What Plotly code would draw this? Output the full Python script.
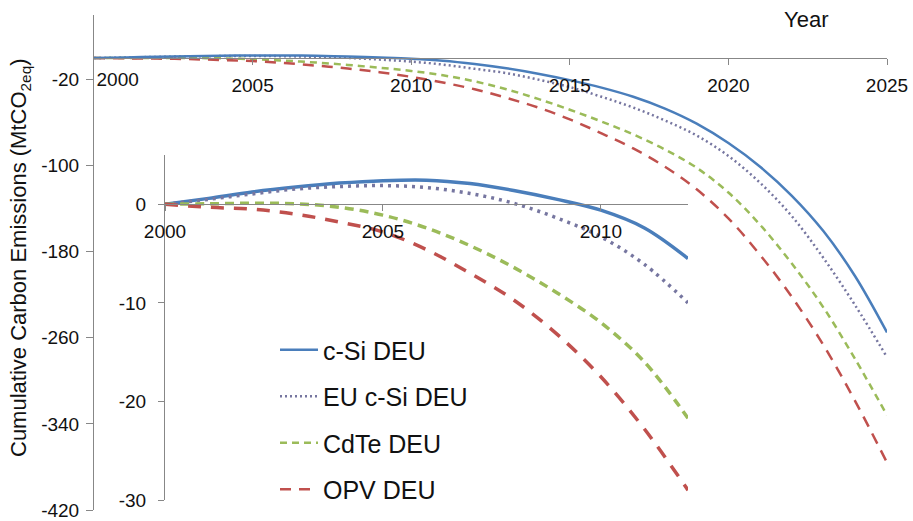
import plotly.graph_objects as go

# Years covered by the long-run projection
years = list(range(2000, 2026))

# Cumulative carbon emissions (MtCO2eq) per technology
csi_deu = [0, 0.6, 1.25, 1.75, 2.15, 2.4, 2.45, 2.1, 1.4, 0.5, -0.6, -2.4, -5.5,
           -9.5, -14.5, -20.5, -27.5, -36, -47, -61, -79, -101, -128, -161, -203, -255]
eu_csi_deu = [0, 0.5, 1.05, 1.55, 1.8, 1.9, 1.7, 1.1, 0.1, -1.4, -3.3, -6.1, -10.0,
              -14, -20, -27, -36, -46, -58, -72, -91, -116, -147, -186, -230, -278]
cdte_deu = [0, 0.05, 0.1, 0.05, -0.3, -1.1, -2.4, -4.2, -6.4, -9.0, -12.0, -16.0, -21.7,
            -29, -38, -48, -59, -71, -85, -102, -125, -155, -191, -232, -280, -332]
opv_deu = [0, -0.3, -0.5, -1.0, -1.8, -2.8, -4.6, -7.0, -9.7, -13.2, -17.5, -22.8, -29.0,
           -37, -46, -57, -70, -84, -101, -122, -149, -183, -222, -267, -319, -376]

series_names = ["c-Si DEU", "EU c-Si DEU", "CdTe DEU", "OPV DEU"]
series_values = [csi_deu, eu_csi_deu, cdte_deu, opv_deu]

# Main axis ticks (the first year label sits just right of the vertical axis,
# on an overlaid x axis sharing the same range)
main_x_ticks = [2005, 2010, 2015, 2020, 2025]
main_x_labels = ["2005", "2010", "2015", "2020", "2025"]
first_year_tick = [2000]
first_year_label = ["2000"]
main_y_ticks = [-420, -340, -260, -180, -100, -20]
main_y_labels = ["-420", "-340", "-260", "-180", "-100", "-20"]

# Inset (zoom on the first years)
inset_end_year = 2012
inset_x_ticks = [2000, 2005, 2010]
inset_x_labels = ["2000", "2005", "2010"]
inset_y_ticks = [-30, -20, -10, 0]
inset_y_labels = ["-30", "-20", "-10", "0"]

FONT = "Arial, 'Liberation Sans', sans-serif"
AXIS_GREY = "#878787"

styles = [
    dict(color="#4A7EBB", main_dash="solid", inset_dash="solid"),
    dict(color="#7676A0", main_dash="2px,3px", inset_dash="3px,5px"),
    dict(color="#9BBB59", main_dash="7px,5px", inset_dash="9px,6px"),
    dict(color="#C0504D", main_dash="11px,8px", inset_dash="13px,10px"),
]
# x axis used by each series in the main panel (x3 overlays x with the same range)
main_xaxis = ["x3", "x", "x", "x"]

fig = go.Figure()

n_inset = inset_end_year - years[0] + 1
for name, vals, st, xa in zip(series_names, series_values, styles, main_xaxis):
    fig.add_trace(go.Scatter(
        x=years, y=vals, mode="lines", name=name, legendgroup=name,
        line=dict(color=st["color"], width=2.5, dash=st["main_dash"], shape="spline"),
        xaxis=xa, yaxis="y",
    ))
for name, vals, st in zip(series_names, series_values, styles):
    fig.add_trace(go.Scatter(
        x=years[:n_inset], y=vals[:n_inset], mode="lines", name=name,
        legendgroup=name, showlegend=False,
        line=dict(color=st["color"], width=3.5, dash=st["inset_dash"], shape="spline"),
        xaxis="x2", yaxis="y2",
    ))

# Geometry of the main plot area
W, H = 913, 521
ml, mr, mt, mb = 94, 26, 15, 11
pw, ph = W - ml - mr, H - mt - mb


def px_x(px):
    return (px - ml) / pw


def px_y(py):
    return (H - mb - py) / ph


y_lo, y_hi = -420, 40
main_cross = (0 - y_lo) / (y_hi - y_lo)

inset_y_lo, inset_y_hi = -30, 5
inset_dom_y = [px_y(500), px_y(155)]
inset_dom_x = [px_x(165), px_x(688)]
inset_cross = inset_dom_y[0] + (0 - inset_y_lo) / (inset_y_hi - inset_y_lo) * (inset_dom_y[1] - inset_dom_y[0])

tick_font = dict(family=FONT, size=19, color="#111111")
common_axis = dict(showgrid=False, zeroline=False, showline=True, linecolor=AXIS_GREY,
                   linewidth=1, ticks="outside", tickcolor=AXIS_GREY, tickwidth=1,
                   automargin=False, tickfont=tick_font)

fig.update_layout(
    template="none",
    width=W, height=H, autosize=False,
    margin=dict(l=ml, r=mr, t=mt, b=mb, autoexpand=False),
    paper_bgcolor="white", plot_bgcolor="rgba(0,0,0,0)",
    font=dict(family=FONT, color="#111111"),
    xaxis=dict(domain=[0, 1], range=[2000, 2025], anchor="free", position=main_cross,
               tickmode="array", tickvals=main_x_ticks, ticktext=main_x_labels,
               ticklen=6, ticklabelstandoff=4, **common_axis),
    xaxis3=dict(domain=[0, 1], range=[2000, 2025], anchor="free", position=main_cross,
                overlaying="x", showline=False, showgrid=False, zeroline=False,
                ticks="outside", ticklen=6, tickcolor="rgba(0,0,0,0)",
                tickmode="array", tickvals=first_year_tick, ticktext=first_year_label,
                ticklabelposition="outside right", ticklabelshift=2,
                ticklabelstandoff=4, automargin=False, tickfont=tick_font),
    yaxis=dict(domain=[0, 1], range=[y_lo, y_hi], anchor="x",
               tickmode="array", tickvals=main_y_ticks, ticktext=main_y_labels,
               ticklen=7, ticklabelstandoff=3, **common_axis),
    xaxis2=dict(domain=inset_dom_x, range=[2000, inset_end_year], anchor="free",
                position=inset_cross, tickmode="array", tickvals=inset_x_ticks,
                ticktext=inset_x_labels, ticklen=6, ticklabelstandoff=4, **common_axis),
    yaxis2=dict(domain=inset_dom_y, range=[inset_y_lo, inset_y_hi], anchor="x2",
                tickmode="array", tickvals=inset_y_ticks, ticktext=inset_y_labels,
                ticklen=6, ticklabelstandoff=8, **common_axis),
    legend=dict(x=px_x(275), y=px_y(327), xanchor="left", yanchor="top",
                bgcolor="rgba(0,0,0,0)", font=dict(family=FONT, size=25, color="#111111"),
                tracegroupgap=11, itemwidth=38),
    showlegend=True,
    annotations=[
        dict(text="Year", xref="paper", yref="paper", x=px_x(806), y=px_y(19),
             xanchor="center", yanchor="middle", showarrow=False,
             font=dict(family=FONT, size=22, color="#111111")),
        dict(text="Cumulative Carbon Emissions (MtCO<sub>2eq</sub>)", xref="paper",
             yref="paper", x=px_x(20), y=px_y(258), xanchor="center", yanchor="middle",
             textangle=-90, showarrow=False,
             font=dict(family=FONT, size=22, color="#111111")),
    ],
)

fig.write_html("out.html")
